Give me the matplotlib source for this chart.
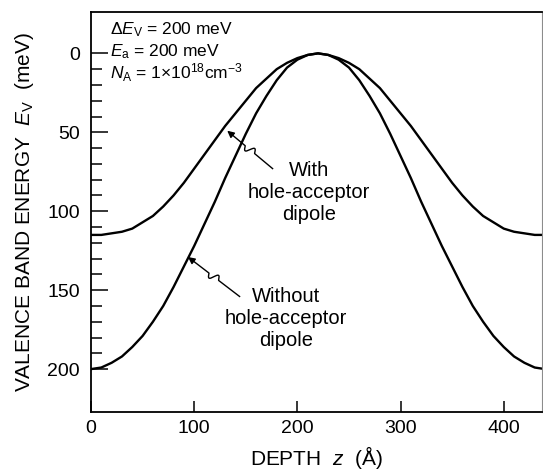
import numpy as np
import matplotlib
matplotlib.use("Agg")
import matplotlib.pyplot as plt
from matplotlib.ticker import FixedLocator

plt.rcParams['font.family'] = ['Liberation Sans', 'DejaVu Sans']
plt.rcParams['mathtext.fontset'] = 'custom'
plt.rcParams['mathtext.rm'] = 'Liberation Sans'
plt.rcParams['mathtext.it'] = 'Liberation Sans:italic'

# depth z (Angstrom), every 10 A
depth = list(range(0, 450, 10))

# valence band energy (meV)
ev_without = [200, 199, 196, 192, 186, 179, 170, 160, 148, 135, 122, 108, 94, 79, 65,
              51, 38, 27, 17, 9, 4, 1, 0, 1, 4, 9, 17, 27, 38, 51,
              65, 79, 94, 108, 122, 135, 148, 160, 170, 179, 186, 192, 196, 199, 200]
ev_with = [115, 115, 114, 113, 111, 107, 103, 97, 90, 82, 73, 64, 55, 46, 38,
           30, 22, 16, 10, 6, 3, 1, 0, 1, 3, 6, 10, 16, 22, 30,
           38, 46, 55, 64, 73, 82, 90, 97, 103, 107, 111, 113, 114, 115, 115]

x_ticks = [0, 100, 200, 300, 400]
y_ticks = [0, 50, 100, 150, 200]

fig = plt.figure(figsize=(5.43, 4.74), dpi=100)
ax = fig.add_axes([0.1676, 0.1314, 0.998 - 0.1676, 0.974 - 0.1314])

ax.plot(depth, ev_with, color='black', lw=1.7)
ax.plot(depth, ev_without, color='black', lw=1.7)

ax.set_xlim(0, 437)
ax.set_ylim(227, -26)

ax.set_xticks(x_ticks)
ax.set_yticks(y_ticks)
ax.yaxis.set_minor_locator(FixedLocator([v for v in range(10, 200, 10) if v % 50]))
ax.tick_params(axis='x', direction='in', length=8, width=1.1, labelsize=14, pad=6)
ax.tick_params(axis='y', which='major', direction='in', length=12, width=1.1,
               labelsize=14, pad=8)
ax.tick_params(axis='y', which='minor', direction='in', length=8, width=1.1)

for side in ['left', 'bottom', 'top']:
    ax.spines[side].set_linewidth(1.3)
ax.spines['right'].set_linewidth(0.8)
ax.spines['right'].set_color('0.55')

ax.set_xlabel(r"DEPTH  $z$  (Å)", fontsize=15, labelpad=5)
ax.set_ylabel(r"VALENCE BAND ENERGY  $E_{\rm V}$  (meV)", fontsize=15, labelpad=8)

# parameters
ax.text(0.042, 0.956, r"$\Delta E_{\rm V}$ = 200 meV", transform=ax.transAxes,
        fontsize=12.5, va='center', ha='left')
ax.text(0.042, 0.902, r"$E_{\rm a}$ = 200 meV", transform=ax.transAxes,
        fontsize=12.5, va='center', ha='left')
ax.text(0.042, 0.848, r"$N_{\rm A}$ = 1$\times$10$^{18}$cm$^{-3}$", transform=ax.transAxes,
        fontsize=12.5, va='center', ha='left')

# curve labels
ax.text(211, 88, "With\nhole-acceptor\ndipole", fontsize=14.5, ha='center', va='center',
        linespacing=1.2)
ax.text(189, 168, "Without\nhole-acceptor\ndipole", fontsize=14.5, ha='center', va='center',
        linespacing=1.2)


def squiggle_arrow(start, tip, frac=0.5):
    # straight leader with a small wiggle, drawn in pixel space
    fig.canvas.draw()
    tr = ax.transData
    p0 = np.array(tr.transform(start))
    p1 = np.array(tr.transform(tip))
    d = p1 - p0
    L = np.hypot(*d)
    u = d / L
    n = np.array([-u[1], u[0]])
    s = np.linspace(0, 1, 200)
    w = 6.0 / L
    c = frac
    off = np.where(np.abs(s - c) < w, 4.0 * np.sin(np.pi * (s - c) / w), 0.0)
    pts = p0[None, :] + s[:, None] * d[None, :] + off[:, None] * n[None, :]
    data = tr.inverted().transform(pts[:-20])
    ax.plot(data[:, 0], data[:, 1], color='black', lw=1.0)
    ax.annotate("", xy=tip, xytext=tuple(data[-1]),
                arrowprops=dict(arrowstyle='-|>', color='black', lw=1.0,
                                mutation_scale=10, shrinkA=0, shrinkB=0))


squiggle_arrow((176, 73), (132, 49))
squiggle_arrow((144, 154), (94, 129))

fig.savefig("out.png", dpi=100)
